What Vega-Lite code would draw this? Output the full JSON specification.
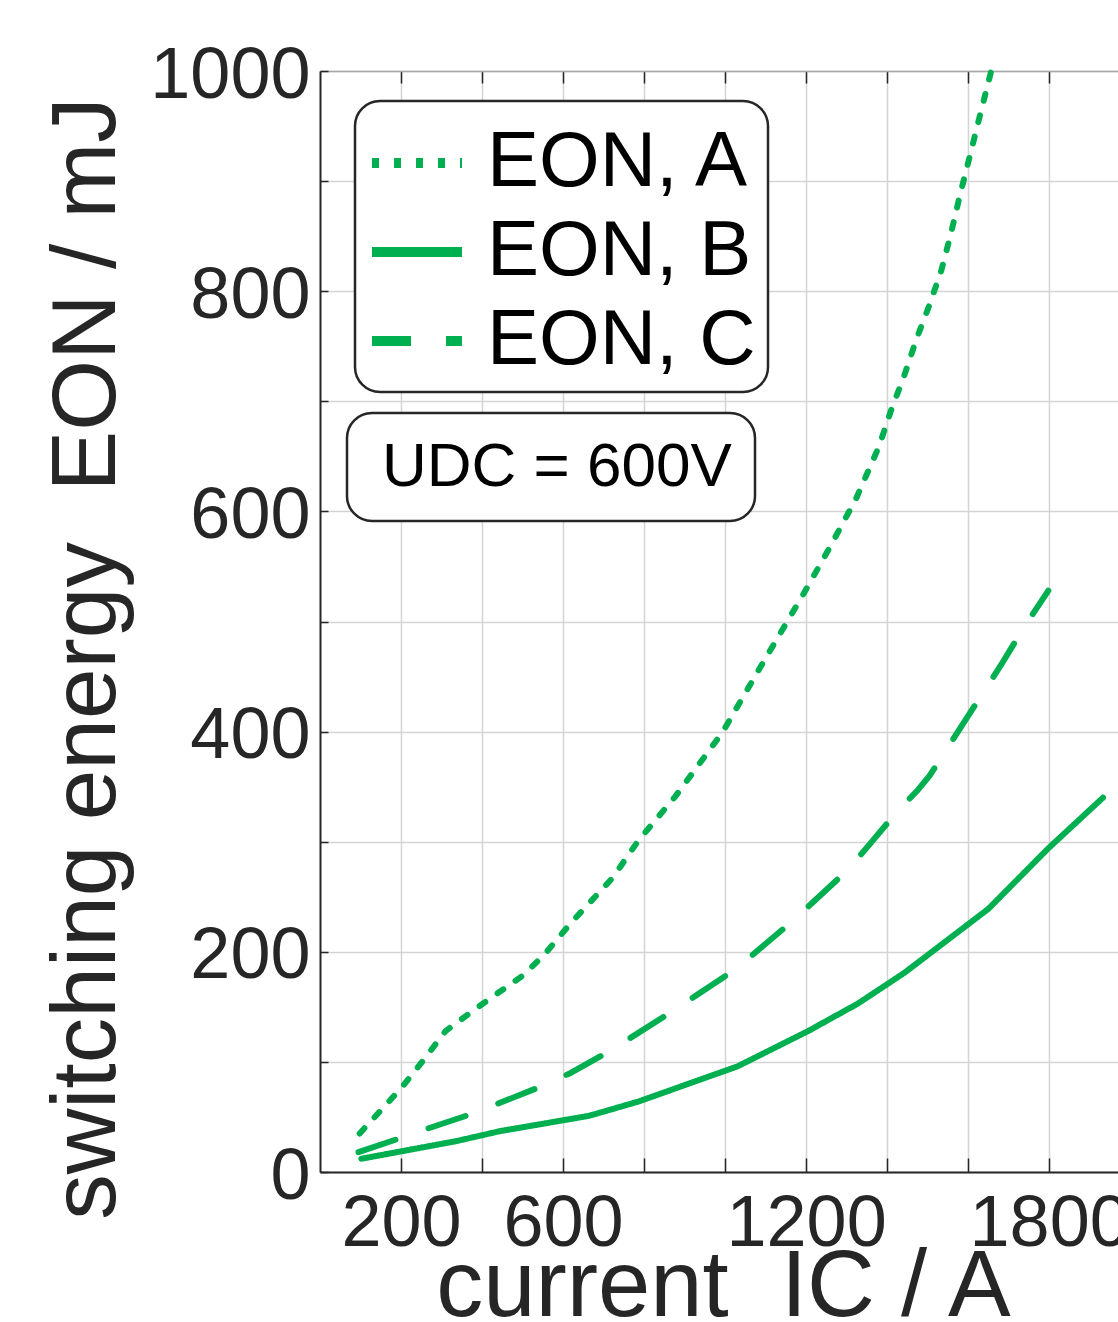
{
  "$schema": "https://vega.github.io/schema/vega-lite/v6.json",
  "width": 798,
  "height": 1101,
  "autosize": {"type": "none"},
  "padding": {"left": 320, "top": 71, "right": 0, "bottom": 150},
  "background": "white",
  "config": {
    "view": {"stroke": null},
    "font": "Liberation Sans",
    "axis": {
      "labelFont": "Liberation Sans",
      "titleFont": "Liberation Sans",
      "labelColor": "#262626",
      "titleColor": "#262626",
      "titleFontWeight": "normal",
      "domainColor": "#262626",
      "tickColor": "#262626",
      "gridColor": "#d4d4d4",
      "gridWidth": 1.5,
      "labelFontSize": 72,
      "titleFontSize": 94,
      "domainWidth": 2,
      "tickWidth": 1.5
    },
    "legend": {"labelFont": "Liberation Sans", "labelColor": "#000000", "strokeWidth": 2.5}
  },
  "datasets": {
    "curves": [
      {"series": "EON, A", "current": 98, "energy": 35},
      {"series": "EON, A", "current": 200, "energy": 76},
      {"series": "EON, A", "current": 252, "energy": 100},
      {"series": "EON, A", "current": 310, "energy": 128},
      {"series": "EON, A", "current": 387, "energy": 149},
      {"series": "EON, A", "current": 503, "energy": 179},
      {"series": "EON, A", "current": 555, "energy": 198},
      {"series": "EON, A", "current": 619, "energy": 226},
      {"series": "EON, A", "current": 722, "energy": 267},
      {"series": "EON, A", "current": 786, "energy": 301},
      {"series": "EON, A", "current": 877, "energy": 341},
      {"series": "EON, A", "current": 993, "energy": 399},
      {"series": "EON, A", "current": 1083, "energy": 456},
      {"series": "EON, A", "current": 1192, "energy": 524},
      {"series": "EON, A", "current": 1258, "energy": 567},
      {"series": "EON, A", "current": 1324, "energy": 612},
      {"series": "EON, A", "current": 1380, "energy": 659},
      {"series": "EON, A", "current": 1410, "energy": 692},
      {"series": "EON, A", "current": 1443, "energy": 724},
      {"series": "EON, A", "current": 1472, "energy": 756},
      {"series": "EON, A", "current": 1505, "energy": 788},
      {"series": "EON, A", "current": 1534, "energy": 819},
      {"series": "EON, A", "current": 1558, "energy": 853},
      {"series": "EON, A", "current": 1579, "energy": 886},
      {"series": "EON, A", "current": 1601, "energy": 918},
      {"series": "EON, A", "current": 1624, "energy": 952},
      {"series": "EON, A", "current": 1635, "energy": 968},
      {"series": "EON, A", "current": 1657, "energy": 1000},
      {"series": "EON, B", "current": 102, "energy": 12},
      {"series": "EON, B", "current": 336, "energy": 28},
      {"series": "EON, B", "current": 443, "energy": 37},
      {"series": "EON, B", "current": 664, "energy": 51},
      {"series": "EON, B", "current": 786, "energy": 64},
      {"series": "EON, B", "current": 1031, "energy": 96},
      {"series": "EON, B", "current": 1205, "energy": 128},
      {"series": "EON, B", "current": 1328, "energy": 153},
      {"series": "EON, B", "current": 1443, "energy": 181},
      {"series": "EON, B", "current": 1650, "energy": 239},
      {"series": "EON, B", "current": 1798, "energy": 294},
      {"series": "EON, B", "current": 1933, "energy": 340},
      {"series": "EON, C", "current": 95, "energy": 18},
      {"series": "EON, C", "current": 200, "energy": 31},
      {"series": "EON, C", "current": 270, "energy": 40},
      {"series": "EON, C", "current": 377, "energy": 53},
      {"series": "EON, C", "current": 548, "energy": 78},
      {"series": "EON, C", "current": 619, "energy": 90},
      {"series": "EON, C", "current": 716, "energy": 110},
      {"series": "EON, C", "current": 870, "energy": 146},
      {"series": "EON, C", "current": 1025, "energy": 184},
      {"series": "EON, C", "current": 1167, "energy": 228},
      {"series": "EON, C", "current": 1302, "energy": 274},
      {"series": "EON, C", "current": 1353, "energy": 296},
      {"series": "EON, C", "current": 1424, "energy": 327},
      {"series": "EON, C", "current": 1476, "energy": 347},
      {"series": "EON, C", "current": 1505, "energy": 360},
      {"series": "EON, C", "current": 1540, "energy": 380},
      {"series": "EON, C", "current": 1682, "energy": 461},
      {"series": "EON, C", "current": 1740, "energy": 496},
      {"series": "EON, C", "current": 1798, "energy": 528}
    ],
    "note": [{"condition": "UDC = 600V"}]
  },
  "layer": [
    {
      "data": {"name": "curves"},
      "mark": {"type": "line", "color": "#00B050", "strokeWidth": 6, "strokeCap": "round", "strokeJoin": "round"},
      "encoding": {
        "x": {
          "field": "current",
          "type": "quantitative",
          "scale": {"domain": [0, 1970], "nice": false, "zero": false},
          "axis": {
            "orient": "bottom",
            "values": [200, 400, 600, 800, 1000, 1200, 1400, 1600, 1800],
            "labelExpr": "indexof([200, 600, 1200, 1800], datum.value) >= 0 ? datum.label : ''",
            "format": "d",
            "grid": true,
            "tickSize": -14,
            "labelPadding": 30,
            "labelFlush": false,
            "labelOverlap": false,
            "title": "current\u00a0\u00a0IC / A",
            "titleX": 403,
            "titleY": 143,
            "titleAlign": "center",
            "titleBaseline": "alphabetic"
          }
        },
        "y": {
          "field": "energy",
          "type": "quantitative",
          "scale": {"domain": [0, 1000], "nice": false},
          "axis": {
            "values": [0, 100, 200, 300, 400, 500, 600, 700, 800, 900, 1000],
            "labelExpr": "datum.value % 200 == 0 ? datum.label : ''",
            "format": "d",
            "grid": true,
            "tickSize": -8,
            "labelPadding": 18,
            "labelOffset": 4,
            "labelFlush": false,
            "labelOverlap": false,
            "title": "switching energy\u00a0\u00a0EON / mJ",
            "titleFontSize": 91,
            "titleX": -206,
            "titleY": 587,
            "titleAngle": 270,
            "titleAlign": "center",
            "titleBaseline": "alphabetic"
          }
        },
        "strokeDash": {
          "field": "series",
          "type": "nominal",
          "scale": {"domain": ["EON, A", "EON, B", "EON, C"], "range": [[7, 15], [1, 0], [39, 35]]},
          "legend": {
            "title": null,
            "orient": "none",
            "legendX": 35,
            "legendY": 30,
            "symbolType": "stroke",
            "symbolSize": 8100,
            "symbolStrokeWidth": 10,
            "symbolStrokeColor": "#00B050",
            "labelFontSize": 78,
            "labelOffset": 20,
            "labelLimit": 1000,
            "rowPadding": 0,
            "padding": 12,
            "strokeColor": "#262626",
            "cornerRadius": 25,
            "fillColor": "white"
          }
        }
      }
    },
    {
      "data": {"name": "curves"},
      "mark": {"type": "point", "opacity": 0},
      "encoding": {
        "x": {
          "field": "current",
          "type": "quantitative",
          "axis": {
            "orient": "top",
            "values": [200, 400, 600, 800, 1000, 1200, 1400, 1600, 1800],
            "labels": false,
            "grid": false,
            "tickSize": -12,
            "domainColor": "#a6a6a6",
            "domainWidth": 1.5,
            "title": null
          }
        }
      }
    },
    {
      "data": {"name": "note"},
      "mark": {"type": "point", "opacity": 0},
      "encoding": {
        "shape": {
          "field": "condition",
          "type": "nominal",
          "legend": {
            "title": null,
            "orient": "none",
            "legendX": 27,
            "legendY": 342,
            "symbolOpacity": 0,
            "symbolSize": 0,
            "labelFontSize": 62,
            "labelOffset": -50,
            "labelLimit": 1000,
            "padding": 23,
            "strokeColor": "#262626",
            "cornerRadius": 25,
            "fillColor": "white"
          }
        }
      }
    }
  ],
  "resolve": {"axis": {"x": "independent"}}
}
